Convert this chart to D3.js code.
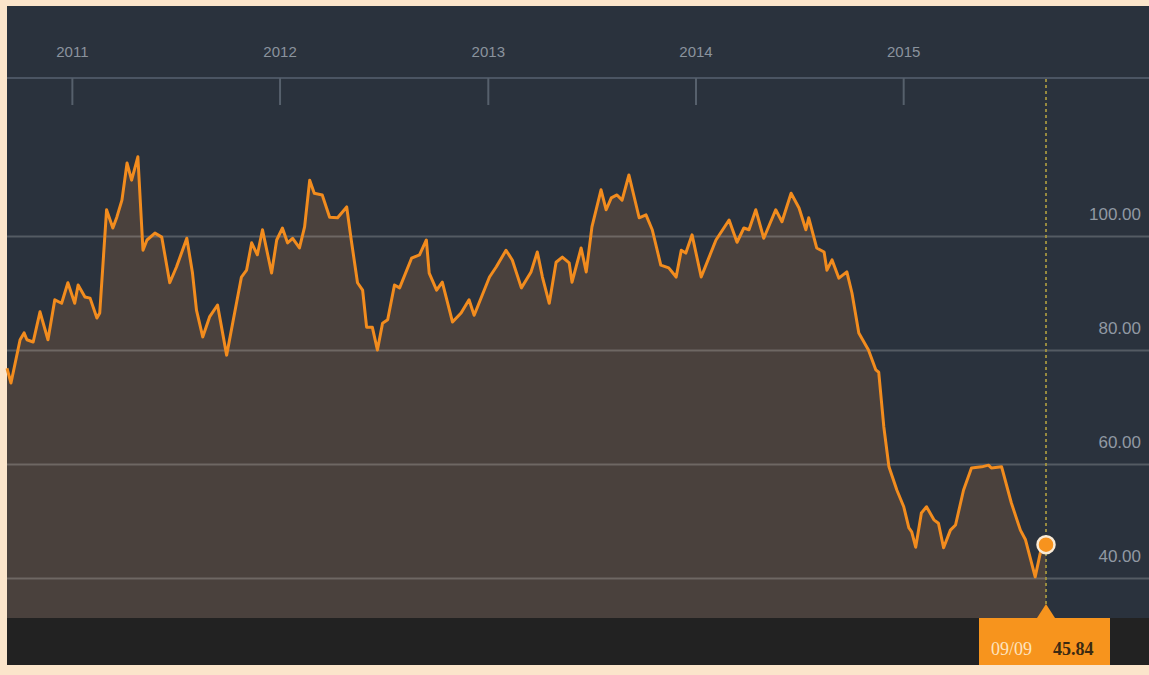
<!DOCTYPE html>
<html>
<head>
<meta charset="utf-8">
<script src="https://cdn.jsdelivr.net/npm/d3@7"></script>
<style>
  html, body { margin: 0; padding: 0; background: #fbe5cb; }
  svg { display: block; }
</style>
</head>
<body>
<svg id="chart" width="1149" height="675"></svg>
<script>
// weekly-ish closes
var dates = [
  "2010-09-09","2010-09-16","2010-10-02","2010-10-09","2010-10-14","2010-10-25","2010-11-06","2010-11-20",
  "2010-12-02","2010-12-14","2010-12-25","2011-01-06","2011-01-12","2011-01-24","2011-02-02","2011-02-14",
  "2011-02-19","2011-03-03","2011-03-14","2011-03-21","2011-03-30","2011-04-08","2011-04-16","2011-04-27",
  "2011-05-06","2011-05-13","2011-05-27","2011-06-08","2011-06-22","2011-07-04","2011-07-22","2011-08-01",
  "2011-08-08","2011-08-19","2011-08-31","2011-09-14","2011-09-30","2011-10-14","2011-10-26","2011-11-04",
  "2011-11-13","2011-11-23","2011-12-02","2011-12-18","2011-12-27","2012-01-06","2012-01-15","2012-01-24",
  "2012-02-05","2012-02-14","2012-02-23","2012-03-02","2012-03-16","2012-03-29","2012-04-12","2012-04-28",
  "2012-05-06","2012-05-17","2012-05-26","2012-06-02","2012-06-12","2012-06-21","2012-06-30","2012-07-09",
  "2012-07-21","2012-07-30","2012-08-20","2012-09-03","2012-09-15","2012-09-20","2012-10-03","2012-10-13",
  "2012-10-31","2012-11-15","2012-11-29","2012-12-08","2013-01-04","2013-01-16","2013-02-02","2013-02-13",
  "2013-03-01","2013-03-18","2013-03-29","2013-04-07","2013-04-19","2013-05-01","2013-05-12","2013-05-24",
  "2013-05-29","2013-06-14","2013-06-23","2013-07-03","2013-07-19","2013-07-28","2013-08-06","2013-08-16",
  "2013-08-25","2013-09-06","2013-09-24","2013-10-06","2013-10-17","2013-11-01","2013-11-15","2013-11-28",
  "2013-12-07","2013-12-15","2013-12-26","2014-01-11","2014-01-25","2014-02-06","2014-03-01","2014-03-15",
  "2014-03-27","2014-04-05","2014-04-17","2014-05-01","2014-05-22","2014-06-02","2014-06-18","2014-07-02",
  "2014-07-14","2014-07-19","2014-08-02","2014-08-15","2014-08-20","2014-08-29","2014-09-10","2014-09-24",
  "2014-10-03","2014-10-15","2014-11-01","2014-11-14","2014-11-19","2014-11-28","2014-12-07","2014-12-21",
  "2015-01-02","2015-01-11","2015-01-16","2015-01-23","2015-02-02","2015-02-11","2015-02-24","2015-03-04",
  "2015-03-13","2015-03-25","2015-04-03","2015-04-17","2015-05-01","2015-05-19","2015-05-31","2015-06-05",
  "2015-06-23","2015-07-10","2015-07-26","2015-08-04","2015-08-21","2015-08-30","2015-09-09"
];
var prices = [
  76.8, 74.2, 81.8, 83.0, 81.8, 81.4, 86.7, 81.8,
  88.8, 88.2, 91.8, 88.2, 91.4, 89.3, 89.1, 85.6,
  86.5, 104.6, 101.4, 103.3, 106.3, 112.8, 109.8, 113.9,
  97.5, 99.3, 100.5, 99.8, 91.8, 94.6, 99.6, 93.5,
  87.0, 82.3, 85.8, 87.9, 79.1, 86.5, 92.8, 94.0,
  98.8, 96.7, 101.1, 93.5, 99.3, 101.4, 98.8, 99.6,
  97.9, 101.6, 109.8, 107.5, 107.2, 103.3, 103.2, 105.1,
  99.3, 91.8, 90.5, 84.0, 84.0, 80.0, 84.7, 85.3,
  91.4, 90.9, 96.1, 96.7, 99.3, 93.5, 90.5, 91.9,
  84.9, 86.5, 88.8, 86.1, 92.8, 94.6, 97.5, 95.8,
  90.9, 93.7, 97.2, 92.8, 88.2, 95.4, 96.3, 95.3,
  91.9, 97.9, 93.7, 101.6, 108.1, 104.6, 106.7, 107.2,
  106.3, 110.7, 103.2, 103.7, 101.1, 94.9, 94.4, 92.8,
  97.5, 97.0, 100.2, 92.8, 96.3, 99.3, 102.8, 98.9,
  101.4, 101.1, 104.6, 99.6, 104.6, 102.5, 107.5, 104.9,
  101.1, 103.2, 97.9, 97.2, 94.0, 95.8, 92.6, 93.7,
  90.0, 83.0, 80.0, 76.5, 76.1, 66.5, 59.5, 55.4,
  52.5, 48.8, 48.1, 45.4, 51.4, 52.5, 50.2, 49.6,
  45.3, 48.4, 49.3, 55.4, 59.3, 59.5, 59.8, 59.3,
  59.5, 53.2, 48.4, 46.7, 40.2, 44.4, 45.84
];
var yearTicks = ["2011-01-01","2012-01-01","2013-01-01","2014-01-01","2015-01-01"];
var priceTicks = [40, 60, 80, 100];
var lastLabel = "09/09";

(function(){
  var parse = d3.timeParse("%Y-%m-%d");
  var data = dates.map(function(d, i){ return { date: parse(d), value: prices[i] }; });
  var last = data[data.length - 1];

  var svg = d3.select("#chart");
  var pl = 7, pr = 1149, pt = 6, pb = 665;
  var plotBottom = 618;

  var x = d3.scaleTime()
    .domain([data[0].date, last.date])
    .range([pl, 1046]);
  var y = d3.scaleLinear()
    .domain([40, 100])
    .range([578, 236]);

  // panel
  svg.append("rect").attr("x", pl).attr("y", pt)
    .attr("width", pr - pl).attr("height", pb - pt)
    .attr("fill", "#2a323d");
  svg.append("rect").attr("x", pl).attr("y", plotBottom)
    .attr("width", pr - pl).attr("height", pb - plotBottom)
    .attr("fill", "#222222");

  // area
  var area = d3.area()
    .x(function(d){ return x(d.date); })
    .y0(plotBottom)
    .y1(function(d){ return y(d.value); });
  svg.append("path").datum(data)
    .attr("d", area)
    .attr("fill", "#4a413d");

  // grid + price labels
  var grid = svg.append("g")
    .attr("transform", "translate(" + pl + ",0)")
    .call(d3.axisRight(y).tickValues(priceTicks).tickSize(pr - pl)
      .tickFormat(d3.format(".2f")));
  grid.select(".domain").remove();
  grid.selectAll(".tick line")
    .attr("stroke", "#ffffff").attr("stroke-opacity", 0.2).attr("stroke-width", 2);
  grid.selectAll(".tick text")
    .attr("x", 1141 - pl).attr("dy", "-1em")
    .attr("text-anchor", "end")
    .attr("fill", "#9199a3")
    .style("font", "17px 'Liberation Sans', Arial, sans-serif");

  var line = d3.line()
    .x(function(d){ return x(d.date); })
    .y(function(d){ return y(d.value); });
  svg.append("path").datum(data)
    .attr("d", line)
    .attr("fill", "none")
    .attr("stroke", "#f28c1e")
    .attr("stroke-width", 3)
    .attr("stroke-linejoin", "round");

  // top time axis
  svg.append("line")
    .attr("x1", pl).attr("x2", pr).attr("y1", 78).attr("y2", 78)
    .attr("stroke", "#4b5563").attr("stroke-width", 2);
  var xa = svg.append("g")
    .attr("transform", "translate(0,105)")
    .call(d3.axisTop(x).tickValues(yearTicks.map(parse)).tickSize(27).tickPadding(21)
      .tickFormat(d3.timeFormat("%Y")));
  xa.select(".domain").remove();
  xa.selectAll(".tick line").attr("stroke", "#56606c").attr("stroke-width", 2);
  xa.selectAll(".tick text")
    .attr("fill", "#8a939d")
    .style("font", "15px 'Liberation Sans', Arial, sans-serif");

  // current value marker
  var cx = x(last.date), cy = y(last.value);
  svg.append("line")
    .attr("x1", cx).attr("x2", cx).attr("y1", 79).attr("y2", plotBottom)
    .attr("stroke", "#a39441").attr("stroke-width", 1.8)
    .attr("stroke-dasharray", "3,3");
  svg.append("circle")
    .attr("cx", cx).attr("cy", cy).attr("r", 8.5)
    .attr("fill", "#f7931e")
    .attr("stroke", "#f8ead6").attr("stroke-width", 2.5);

  // value flag
  svg.append("path")
    .attr("d", "M" + (cx - 9) + "," + plotBottom + "L" + cx + "," + (plotBottom - 14) + "L" + (cx + 9) + "," + plotBottom + "Z")
    .attr("fill", "#f7941d");
  svg.append("rect")
    .attr("x", 979).attr("y", plotBottom).attr("width", 131).attr("height", pb - plotBottom)
    .attr("fill", "#f7941d");
  svg.append("text")
    .attr("x", 991).attr("y", 655)
    .attr("fill", "#fde3bd")
    .style("font", "18px 'Liberation Serif', 'Times New Roman', serif")
    .text(lastLabel);
  svg.append("text")
    .attr("x", 1053).attr("y", 655)
    .attr("fill", "#3b2a12")
    .style("font", "bold 18px 'Liberation Serif', 'Times New Roman', serif")
    .text(d3.format(".2f")(last.value));
})();
</script>
</body>
</html>
